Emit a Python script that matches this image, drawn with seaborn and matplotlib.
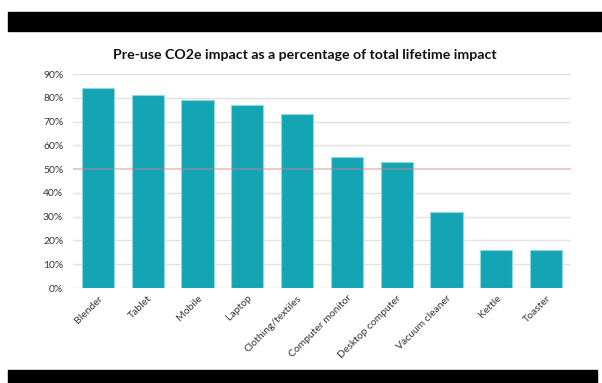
import matplotlib
matplotlib.use("Agg")
import matplotlib.pyplot as plt
import seaborn as sns
import pandas as pd
from matplotlib.patches import Rectangle
from matplotlib.ticker import FuncFormatter, MultipleLocator

categories = ["Blender", "Tablet", "Mobile", "Laptop", "Clothing/textiles",
              "Computer monitor", "Desktop computer", "Vacuum cleaner", "Kettle", "Toaster"]
values = [84, 81, 79, 77, 73, 55, 53, 32, 16, 16]
title = "Pre-use CO2e impact as a percentage of total lifetime impact"

sns.set_theme(style="white")
plt.rcParams['font.family'] = ['Lato', 'DejaVu Sans']

df = pd.DataFrame({"category": categories, "value": values})

fig = plt.figure(figsize=(6.02, 3.83), dpi=100)
W, H = 602, 383
ax = fig.add_axes([73 / W, 1 - 288 / H, (571 - 73) / W, (288 - 74) / H])

for y in range(10, 100, 10):
    if y == 50:
        ax.axhline(y, color="#d98080", alpha=0.55, lw=1.1, zorder=3)
    else:
        ax.axhline(y, color="#e3e3e3", lw=1.0, zorder=0)
ax.axhline(0, color="#d9d9d9", lw=1.0, zorder=0)

sns.barplot(data=df, x="category", y="value", color="#14a5b5", saturation=1,
            width=0.65, edgecolor="#8fd6de", linewidth=0.8, ax=ax, zorder=2)

ax.set_ylim(0, 90)
ax.set_xlim(-0.5, len(categories) - 0.5)
ax.yaxis.set_major_locator(MultipleLocator(10))
ax.yaxis.set_major_formatter(FuncFormatter(lambda v, p: f"{int(v)}%"))
ax.set_xlabel("")
ax.set_ylabel("")
for s in ax.spines.values():
    s.set_visible(False)
ax.tick_params(axis="y", length=0, labelsize=7.5, pad=7, labelcolor="#333333")
ax.tick_params(axis="x", length=0, labelsize=7.5, pad=4, labelcolor="#333333")
for lbl in ax.get_xticklabels():
    lbl.set_rotation(45)
    lbl.set_ha("right")
    lbl.set_rotation_mode("anchor")

fig.text(305 / W, 1 - 55 / H, title, ha="center", va="center",
         fontsize=10.2, fontweight="bold", color="#111111")

fig.patches.append(Rectangle((8 / W, 1 - 31 / H), (W - 8) / W, 19 / H,
                             transform=fig.transFigure, color="black", zorder=10))
fig.patches.append(Rectangle((8 / W, 0), (597 - 8) / W, 13 / H,
                             transform=fig.transFigure, color="black", zorder=10))

fig.savefig("out.png", dpi=100)
